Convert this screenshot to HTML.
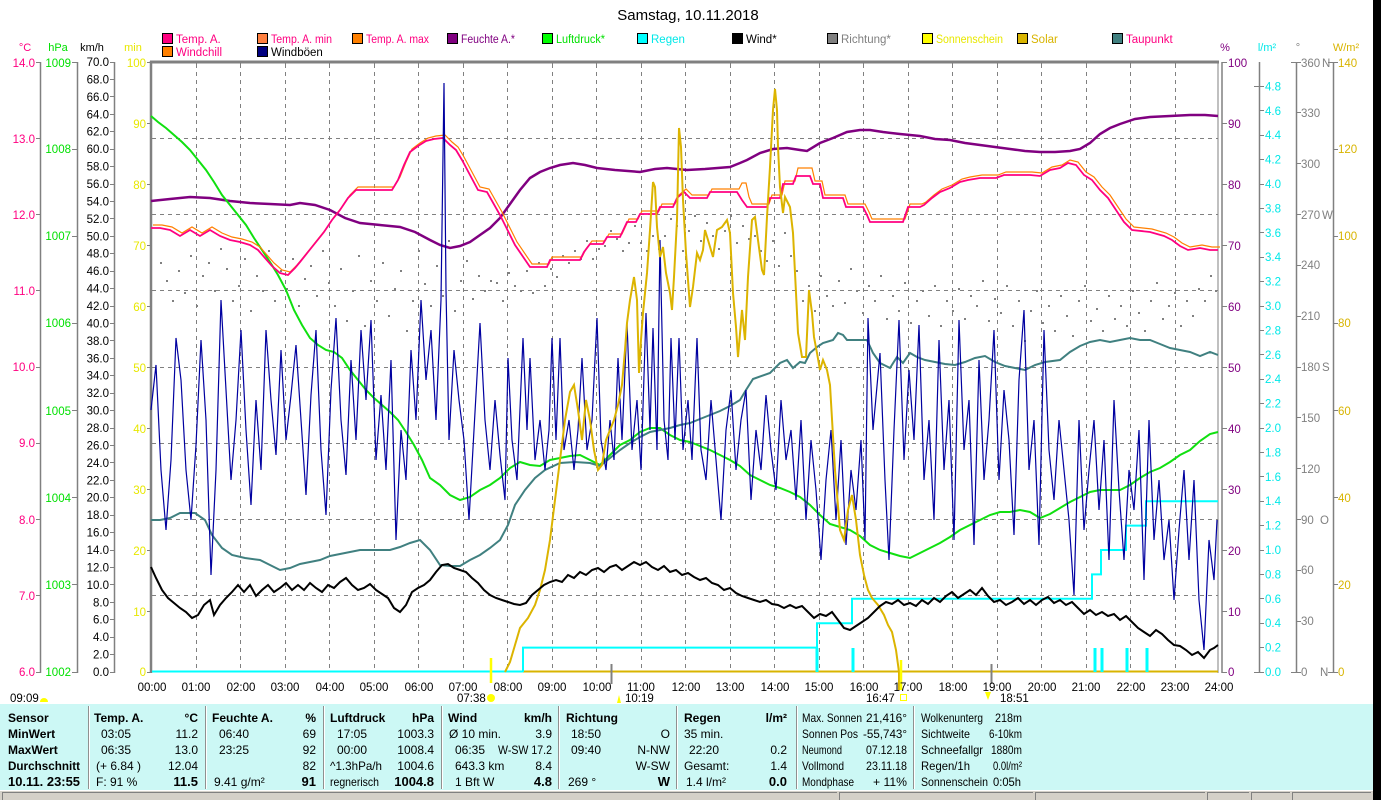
<!DOCTYPE html>
<html><head><meta charset="utf-8">
<style>
html,body{margin:0;padding:0;background:#fff;}
#w{position:relative;width:1381px;height:800px;overflow:hidden;background:#fff;}
svg text{font-family:"Liberation Sans",sans-serif;}
</style></head><body><div id="w">
<svg width="1381" height="800" viewBox="0 0 1381 800" xmlns="http://www.w3.org/2000/svg">
<rect x="0" y="0" width="1381" height="800" fill="#fff"/>
<!-- title -->
<text x="688" y="20" font-size="15" text-anchor="middle" fill="#000">Samstag, 10.11.2018</text>

<!-- legend -->
<g font-size="11.5">
<rect x="162.5" y="33.5" width="10" height="10" fill="#ff0080" stroke="#000"/><text x="176" y="43" fill="#ff0080">Temp. A.</text>
<rect x="257.5" y="33.5" width="10" height="10" fill="#ff8040" stroke="#000"/><text x="271" y="43" fill="#ff0080" textLength="61" lengthAdjust="spacingAndGlyphs">Temp. A. min</text>
<rect x="352.5" y="33.5" width="10" height="10" fill="#ff8000" stroke="#000"/><text x="366" y="43" fill="#ff0080" textLength="63" lengthAdjust="spacingAndGlyphs">Temp. A. max</text>
<rect x="447.5" y="33.5" width="10" height="10" fill="#800080" stroke="#000"/><text x="461" y="43" fill="#800080" textLength="54" lengthAdjust="spacingAndGlyphs">Feuchte A.*</text>
<rect x="542.5" y="33.5" width="10" height="10" fill="#00ff00" stroke="#000"/><text x="556" y="43" fill="#00e000" textLength="49" lengthAdjust="spacingAndGlyphs">Luftdruck*</text>
<rect x="637.5" y="33.5" width="10" height="10" fill="#00ffff" stroke="#000"/><text x="651" y="43" fill="#00e8e8">Regen</text>
<rect x="732.5" y="33.5" width="10" height="10" fill="#000" stroke="#000"/><text x="746" y="43" fill="#000">Wind*</text>
<rect x="827.5" y="33.5" width="10" height="10" fill="#808080" stroke="#000"/><text x="841" y="43" fill="#808080">Richtung*</text>
<rect x="922.5" y="33.5" width="10" height="10" fill="#ffff00" stroke="#000"/><text x="936" y="43" fill="#e8e800" textLength="67" lengthAdjust="spacingAndGlyphs">Sonnenschein</text>
<rect x="1017.5" y="33.5" width="10" height="10" fill="#d8b400" stroke="#000"/><text x="1031" y="43" fill="#d8b400">Solar</text>
<rect x="1112.5" y="33.5" width="10" height="10" fill="#408080" stroke="#000"/><text x="1126" y="43" fill="#ff0080">Taupunkt</text>
<rect x="162.5" y="46.5" width="10" height="10" fill="#ff8000" stroke="#000"/><text x="176" y="56" fill="#ff0080">Windchill</text>
<rect x="257.5" y="46.5" width="10" height="10" fill="#000080" stroke="#000"/><text x="271" y="56" fill="#000">Windböen</text>
</g>

<!-- axis unit labels -->
<g font-size="11" text-anchor="middle">
<text x="25" y="51" fill="#ff0080">°C</text>
<text x="58" y="51" fill="#00e000">hPa</text>
<text x="92" y="51" fill="#000">km/h</text>
<text x="133" y="51" fill="#e8e800">min</text>
<text x="1225" y="51" fill="#800080">%</text>
<text x="1267" y="51" fill="#00e8e8">l/m²</text>
<text x="1298" y="51" fill="#808080">°</text>
<text x="1346" y="51" fill="#d8b400">W/m²</text>
</g>

<!-- grid -->
<g stroke="#808080" stroke-width="1" stroke-dasharray="4,4" fill="none">
<path d="M152 138.5H1218M152 214.5H1218M152 290.5H1218M152 367.5H1218M152 443.5H1218M152 519.5H1218M152 595.5H1218"/>
<path d="M196.5 64V672M240.5 64V672M285.5 64V672M329.5 64V672M374.5 64V672M418.5 64V672M463.5 64V672M507.5 64V672M552.5 64V672M596.5 64V672M641.5 64V672M685.5 64V672M730.5 64V672M774.5 64V672M819.5 64V672M863.5 64V672M908.5 64V672M952.5 64V672M997.5 64V672M1041.5 64V672M1086.5 64V672M1130.5 64V672M1175.5 64V672"/>
</g>

<!-- plot frame -->
<g stroke="#808080" fill="none">
<path d="M150 62H1219" stroke-width="3"/>
<path d="M151 61V673" stroke-width="2.5"/>
<path d="M1218 62V673" stroke-width="1"/>
<path d="M1222 62V673" stroke-width="1.5"/>
<path d="M196.5 63V67M240.5 63V67M285.5 63V67M329.5 63V67M374.5 63V67M418.5 63V67M463.5 63V67M507.5 63V67M552.5 63V67M596.5 63V67M641.5 63V67M685.5 63V67M730.5 63V67M774.5 63V67M819.5 63V67M863.5 63V67M908.5 63V67M952.5 63V67M997.5 63V67M1041.5 63V67M1086.5 63V67M1130.5 63V67M1175.5 63V67" stroke-width="1"/>
</g>

<!-- left axes -->
<g stroke="#808080" stroke-width="1.5" fill="none">
<path d="M40.5 62V673M77.5 62V673M114.5 62V673"/>
<path stroke-width="1" d="M36 62.5H41M36 138.5H41M36 214.5H41M36 290.5H41M36 367.5H41M36 443.5H41M36 519.5H41M36 595.5H41M36 672.5H41"/>
<path stroke-width="1" d="M72 62.5H78M72 149.5H78M72 236.5H78M72 323.5H78M72 410.5H78M72 497.5H78M72 584.5H78M72 672.5H78"/>
<path stroke-width="1" d="M110 62.5H115M110 79.5H115M110 96.5H115M110 114.5H115M110 131.5H115M110 149.5H115M110 166.5H115M110 184.5H115M110 201.5H115M110 218.5H115M110 236.5H115M110 253.5H115M110 271.5H115M110 288.5H115M110 306.5H115M110 323.5H115M110 340.5H115M110 358.5H115M110 375.5H115M110 393.5H115M110 410.5H115M110 428.5H115M110 445.5H115M110 462.5H115M110 480.5H115M110 497.5H115M110 515.5H115M110 532.5H115M110 550.5H115M110 567.5H115M110 584.5H115M110 602.5H115M110 619.5H115M110 637.5H115M110 654.5H115M110 672.5H115"/>
<path stroke-width="1" d="M147 62.5H151M147 123.5H151M147 184.5H151M147 245.5H151M147 306.5H151M147 367.5H151M147 428.5H151M147 489.5H151M147 550.5H151M147 611.5H151M147 672.5H151"/>
</g>
<g font-size="11.5" text-anchor="end">
<g fill="#ff0080">
<text x="35" y="67">14.0</text><text x="35" y="143">13.0</text><text x="35" y="219">12.0</text><text x="35" y="295">11.0</text><text x="35" y="371">10.0</text><text x="35" y="447">9.0</text><text x="35" y="524">8.0</text><text x="35" y="600">7.0</text><text x="35" y="676">6.0</text>
</g>
<g fill="#00e000">
<text x="71" y="67">1009</text><text x="71" y="153">1008</text><text x="71" y="240">1007</text><text x="71" y="327">1006</text><text x="71" y="415">1005</text><text x="71" y="502">1004</text><text x="71" y="589">1003</text><text x="71" y="676">1002</text>
</g>
<g fill="#000">
<text x="109" y="66">70.0</text><text x="109" y="83.4">68.0</text><text x="109" y="100.9">66.0</text><text x="109" y="118.3">64.0</text><text x="109" y="135.7">62.0</text><text x="109" y="153.1">60.0</text><text x="109" y="170.6">58.0</text><text x="109" y="188">56.0</text><text x="109" y="205.4">54.0</text><text x="109" y="222.9">52.0</text><text x="109" y="240.3">50.0</text><text x="109" y="257.7">48.0</text><text x="109" y="275.1">46.0</text><text x="109" y="292.6">44.0</text><text x="109" y="310">42.0</text><text x="109" y="327.4">40.0</text><text x="109" y="344.9">38.0</text><text x="109" y="362.3">36.0</text><text x="109" y="379.7">34.0</text><text x="109" y="397.1">32.0</text><text x="109" y="414.6">30.0</text><text x="109" y="432">28.0</text><text x="109" y="449.4">26.0</text><text x="109" y="466.9">24.0</text><text x="109" y="484.3">22.0</text><text x="109" y="501.7">20.0</text><text x="109" y="519.1">18.0</text><text x="109" y="536.6">16.0</text><text x="109" y="554">14.0</text><text x="109" y="571.4">12.0</text><text x="109" y="588.9">10.0</text><text x="109" y="606.3">8.0</text><text x="109" y="623.7">6.0</text><text x="109" y="641.1">4.0</text><text x="109" y="658.6">2.0</text><text x="109" y="676">0.0</text>
</g>
<g fill="#e8e800">
<text x="146" y="67">100</text><text x="146" y="128">90</text><text x="146" y="189">80</text><text x="146" y="250">70</text><text x="146" y="311">60</text><text x="146" y="372">50</text><text x="146" y="433">40</text><text x="146" y="494">30</text><text x="146" y="555">20</text><text x="146" y="616">10</text><text x="146" y="676">0</text>
</g>
</g>

<!-- right axes -->
<g stroke="#808080" fill="none" stroke-width="1.5">
<path d="M1259.5 62V673M1296.5 62V673M1333.5 62V673"/>
<path stroke-width="1" d="M1222 62.5H1227M1222 123.5H1227M1222 184.5H1227M1222 245.5H1227M1222 306.5H1227M1222 367.5H1227M1222 428.5H1227M1222 489.5H1227M1222 550.5H1227M1222 611.5H1227M1222 672.5H1227"/>
<path stroke-width="1" d="M1254 86.5H1264M1259 110.5H1264M1259 135.5H1264M1259 159.5H1264M1259 184.5H1264M1259 208.5H1264M1259 232.5H1264M1259 257.5H1264M1259 281.5H1264M1259 306.5H1264M1259 330.5H1264M1259 354.5H1264M1259 379.5H1264M1259 403.5H1264M1259 428.5H1264M1259 452.5H1264M1259 476.5H1264M1259 501.5H1264M1259 525.5H1264M1259 550.5H1264M1259 574.5H1264M1259 598.5H1264M1259 623.5H1264M1259 647.5H1264M1254 672.5H1264"/>
<path stroke-width="1" d="M1291 62.5H1301M1296 112.5H1301M1296 163.5H1301M1296 214.5H1301M1296 265.5H1301M1296 316.5H1301M1296 367.5H1301M1296 417.5H1301M1296 468.5H1301M1296 519.5H1301M1296 570.5H1301M1296 621.5H1301M1291 672.5H1301"/>
<path stroke-width="1" d="M1328 62.5H1338M1333 149.5H1338M1333 236.5H1338M1333 323.5H1338M1333 410.5H1338M1333 497.5H1338M1333 584.5H1338M1328 672.5H1338"/>
</g>
<g font-size="11.5">
<g fill="#800080">
<text x="1228" y="67">100</text><text x="1228" y="128">90</text><text x="1228" y="189">80</text><text x="1228" y="250">70</text><text x="1228" y="311">60</text><text x="1228" y="372">50</text><text x="1228" y="433">40</text><text x="1228" y="494">30</text><text x="1228" y="555">20</text><text x="1228" y="616">10</text><text x="1228" y="676">0</text>
</g>
<g fill="#00e8e8">
<text x="1265" y="90.4">4.8</text><text x="1265" y="114.8">4.6</text><text x="1265" y="139.2">4.4</text><text x="1265" y="163.6">4.2</text><text x="1265" y="188">4.0</text><text x="1265" y="212.4">3.8</text><text x="1265" y="236.8">3.6</text><text x="1265" y="261.2">3.4</text><text x="1265" y="285.6">3.2</text><text x="1265" y="310">3.0</text><text x="1265" y="334.4">2.8</text><text x="1265" y="358.8">2.6</text><text x="1265" y="383.2">2.4</text><text x="1265" y="407.6">2.2</text><text x="1265" y="432">2.0</text><text x="1265" y="456.4">1.8</text><text x="1265" y="480.8">1.6</text><text x="1265" y="505.2">1.4</text><text x="1265" y="529.6">1.2</text><text x="1265" y="554">1.0</text><text x="1265" y="578.4">0.8</text><text x="1265" y="602.8">0.6</text><text x="1265" y="627.2">0.4</text><text x="1265" y="651.6">0.2</text><text x="1265" y="676">0.0</text>
</g>
<g fill="#808080">
<text x="1301" y="67">360</text><text x="1322" y="67">N</text>
<text x="1301" y="117">330</text><text x="1301" y="168">300</text>
<text x="1301" y="219">270</text><text x="1322" y="219">W</text>
<text x="1301" y="269">240</text><text x="1301" y="320">210</text>
<text x="1301" y="371">180</text><text x="1322" y="371">S</text>
<text x="1301" y="422">150</text><text x="1301" y="473">120</text>
<text x="1301" y="524">90</text><text x="1320" y="524">O</text>
<text x="1301" y="574">60</text><text x="1301" y="625">30</text>
<text x="1301" y="676">0</text><text x="1320" y="676">N</text>
</g>
<g fill="#d8b400">
<text x="1338" y="67">140</text><text x="1338" y="153">120</text><text x="1338" y="240">100</text><text x="1338" y="327">80</text><text x="1338" y="415">60</text><text x="1338" y="502">40</text><text x="1338" y="589">20</text><text x="1338" y="676">0</text>
</g>
</g>

<!-- Richtung dots -->
<path fill="#808080" d="M160 262h2v2h-2zM166 280h2v2h-2zM172 300h2v2h-2zM178 270h2v2h-2zM184 292h2v2h-2zM190 255h2v2h-2zM196 305h2v2h-2zM202 275h2v2h-2zM208 262h2v2h-2zM214 290h2v2h-2zM220 248h2v2h-2zM226 268h2v2h-2zM232 300h2v2h-2zM238 285h2v2h-2zM244 258h2v2h-2zM250 310h2v2h-2zM256 275h2v2h-2zM262 290h2v2h-2zM268 250h2v2h-2zM274 300h2v2h-2zM280 270h2v2h-2zM286 288h2v2h-2zM292 258h2v2h-2zM298 305h2v2h-2zM304 278h2v2h-2zM310 265h2v2h-2zM316 295h2v2h-2zM322 250h2v2h-2zM328 282h2v2h-2zM334 305h2v2h-2zM340 268h2v2h-2zM346 320h2v2h-2zM352 290h2v2h-2zM358 255h2v2h-2zM364 325h2v2h-2zM370 280h2v2h-2zM376 300h2v2h-2zM382 262h2v2h-2zM388 315h2v2h-2zM394 288h2v2h-2zM400 270h2v2h-2zM406 330h2v2h-2zM412 300h2v2h-2zM418 250h2v2h-2zM424 283h2v2h-2zM430 305h2v2h-2zM436 265h2v2h-2zM442 295h2v2h-2zM448 240h2v2h-2zM454 310h2v2h-2zM460 280h2v2h-2zM466 260h2v2h-2zM472 298h2v2h-2zM478 275h2v2h-2zM484 290h2v2h-2zM490 280h2v2h-2zM496 282h2v2h-2zM502 300h2v2h-2zM508 272h2v2h-2zM514 285h2v2h-2zM520 290h2v2h-2zM526 270h2v2h-2zM532 292h2v2h-2zM538 262h2v2h-2zM544 285h2v2h-2zM550 268h2v2h-2zM556 276h2v2h-2zM562 255h2v2h-2zM568 262h2v2h-2zM574 250h2v2h-2zM580 258h2v2h-2zM586 240h2v2h-2zM592 258h2v2h-2zM598 248h2v2h-2zM604 245h2v2h-2zM610 230h2v2h-2zM616 238h2v2h-2zM622 250h2v2h-2zM628 242h2v2h-2zM634 225h2v2h-2zM640 242h2v2h-2zM646 250h2v2h-2zM652 235h2v2h-2zM658 248h2v2h-2zM664 235h2v2h-2zM670 218h2v2h-2zM676 225h2v2h-2zM682 250h2v2h-2zM688 230h2v2h-2zM694 215h2v2h-2zM700 240h2v2h-2zM706 222h2v2h-2zM712 235h2v2h-2zM718 248h2v2h-2zM724 230h2v2h-2zM730 215h2v2h-2zM736 242h2v2h-2zM742 225h2v2h-2zM748 238h2v2h-2zM754 235h2v2h-2zM760 250h2v2h-2zM766 260h2v2h-2zM772 240h2v2h-2zM778 265h2v2h-2zM784 232h2v2h-2zM790 255h2v2h-2zM796 270h2v2h-2zM802 300h2v2h-2zM808 285h2v2h-2zM814 310h2v2h-2zM820 275h2v2h-2zM826 295h2v2h-2zM832 305h2v2h-2zM838 280h2v2h-2zM844 302h2v2h-2zM850 268h2v2h-2zM856 290h2v2h-2zM862 312h2v2h-2zM868 285h2v2h-2zM874 300h2v2h-2zM880 275h2v2h-2zM886 318h2v2h-2zM892 295h2v2h-2zM898 310h2v2h-2zM904 282h2v2h-2zM910 322h2v2h-2zM916 300h2v2h-2zM922 290h2v2h-2zM928 315h2v2h-2zM934 285h2v2h-2zM940 325h2v2h-2zM946 300h2v2h-2zM952 310h2v2h-2zM958 288h2v2h-2zM964 318h2v2h-2zM970 295h2v2h-2zM976 305h2v2h-2zM982 280h2v2h-2zM988 320h2v2h-2zM994 298h2v2h-2zM1000 312h2v2h-2zM1006 285h2v2h-2zM1012 325h2v2h-2zM1018 300h2v2h-2zM1024 340h2v2h-2zM1030 310h2v2h-2zM1036 290h2v2h-2zM1042 322h2v2h-2zM1048 305h2v2h-2zM1054 330h2v2h-2zM1060 295h2v2h-2zM1066 315h2v2h-2zM1072 335h2v2h-2zM1078 300h2v2h-2zM1084 285h2v2h-2zM1090 320h2v2h-2zM1096 308h2v2h-2zM1102 330h2v2h-2zM1108 295h2v2h-2zM1114 318h2v2h-2zM1120 305h2v2h-2zM1126 325h2v2h-2zM1132 290h2v2h-2zM1138 312h2v2h-2zM1144 330h2v2h-2zM1150 300h2v2h-2zM1156 282h2v2h-2zM1162 318h2v2h-2zM1168 305h2v2h-2zM1174 292h2v2h-2zM1180 325h2v2h-2zM1186 300h2v2h-2zM1192 315h2v2h-2zM1198 288h2v2h-2zM1204 300h2v2h-2zM1210 275h2v2h-2zM1215 290h2v2h-2z"/>

<!-- bottom baselines -->
<path d="M152 671.5H1218" stroke="#d8b400" stroke-width="2" fill="none"/>
<path d="M152 671.5H523" stroke="#00ffff" stroke-width="2" fill="none"/>

<!-- Regen -->
<path d="M523 672V647.6H817V623.2H852V598.8H1092V574.4H1101V550H1126V525.6H1146V501.2H1218" stroke="#00ffff" stroke-width="2" fill="none"/>
<path d="M817 672V648M853 672V648M1095 672V648M1102 672V648M1127 672V648M1147 672V648" stroke="#00ffff" stroke-width="3" fill="none"/>

<!-- Feuchte -->
<polyline fill="none" stroke="#800080" stroke-width="2.5" points="151,201 170,199 190,197 210,198 230,201 250,203 270,204 290,205 300,203 315,205 330,210 345,218 360,223 380,225 400,227 415,232 430,240 440,245 450,248 460,246 470,242 480,235 490,228 500,218 510,204 520,190 530,178 540,172 550,168 560,165 573,163 585,165 597,168 615,170 640,172 655,169 667,168 687,170 705,169 730,167 740,163 747,160 760,153 773,149 787,148 800,150 807,151 820,143 833,138 847,132 860,130 870,130 883,132 900,134 920,136 935,139 950,140 965,143 980,145 995,147 1010,149 1025,151 1040,152 1055,152 1070,151 1080,149 1090,143 1100,134 1110,128 1120,124 1135,119 1150,117 1170,116 1190,115 1205,115 1218,116"/>

<!-- Luftdruck -->
<polyline fill="none" stroke="#10e010" stroke-width="2" points="151,116 158,122 166,128 174,135 182,142 190,150 198,160 206,170 214,182 222,195 230,205 238,215 246,225 254,238 262,250 270,262 278,275 286,290 294,310 302,325 310,338 318,345 326,350 334,352 342,358 350,370 358,380 366,390 374,398 382,405 390,412 398,420 406,432 414,445 422,460 430,478 440,485 450,495 460,500 470,497 480,490 490,485 500,478 510,468 520,462 530,465 540,466 550,460 560,458 570,456 580,455 590,460 600,465 610,455 620,445 630,440 640,432 650,428 660,428 670,435 680,440 690,442 700,446 710,450 720,455 730,460 740,466 750,475 760,480 770,485 780,488 790,492 800,497 810,505 820,515 830,524 840,527 850,530 860,536 870,545 880,550 890,553 900,556 910,558 920,553 930,548 940,543 950,537 960,530 970,525 980,520 990,515 1000,512 1010,512 1020,510 1030,512 1040,518 1050,514 1060,508 1070,502 1080,497 1090,492 1100,490 1110,490 1120,490 1130,485 1140,478 1150,472 1160,468 1170,462 1180,455 1190,450 1200,441 1210,434 1218,432"/>

<!-- Temp max / windchill (orange) -->
<polyline transform="translate(2,-1)" fill="none" stroke="#ff8000" stroke-width="1.2" points="151,226 160,226 170,228 180,234 190,228 200,234 210,228 220,234 230,238 240,240 250,243 258,248 265,256 272,264 280,271 288,273 295,266 300,260 308,250 316,240 324,230 332,218 340,208 348,196 356,188 392,188 398,178 404,163 410,150 418,144 426,139 434,137 443,136 450,143 456,148 462,158 470,173 478,188 487,190 500,213 515,243 530,265 547,265 550,258 580,258 584,250 590,242 603,242 607,235 620,235 627,220 636,220 640,212 657,212 660,205 673,205 677,196 684,190 690,196 707,196 710,190 737,190 740,184 744,184 747,198 750,205 767,205 770,196 780,196 783,182 793,182 796,169 810,169 813,182 820,182 823,196 843,196 846,205 863,205 867,213 870,220 903,220 908,205 920,205 924,203 932,196 940,190 950,186 960,180 968,178 980,176 996,176 1004,173 1030,173 1040,174 1050,168 1060,166 1068,161 1076,163 1084,173 1092,178 1100,188 1108,196 1116,208 1124,220 1132,228 1150,230 1164,234 1172,238 1180,244 1188,248 1200,246 1210,248 1218,248"/>
<!-- Temp A (pink) -->
<polyline fill="none" stroke="#ff0080" stroke-width="1.8" points="151,228 160,228 170,230 180,236 190,230 200,236 210,230 220,236 230,240 240,242 250,245 258,250 265,258 272,266 280,273 288,275 295,268 300,262 308,252 316,242 324,232 332,220 340,210 348,198 356,190 392,190 398,180 404,165 410,152 418,146 426,141 434,139 443,138 450,145 456,150 462,160 470,175 478,190 487,192 500,215 515,245 530,267 547,267 550,260 580,260 584,252 590,244 603,244 607,237 620,237 627,222 636,222 640,214 657,214 660,207 673,207 677,198 684,192 690,198 707,198 710,192 737,192 742,200 747,207 767,207 770,198 780,198 783,184 793,184 796,176 810,176 813,184 820,184 823,198 843,198 846,207 863,207 867,215 870,222 903,222 908,207 920,207 924,205 932,198 940,192 950,188 960,182 968,180 980,178 996,178 1004,175 1030,175 1040,176 1050,170 1060,168 1068,163 1076,165 1084,175 1092,180 1100,190 1108,198 1116,210 1124,222 1132,230 1150,232 1164,236 1172,240 1180,246 1188,250 1200,248 1210,250 1218,250"/>

<!-- Taupunkt -->
<polyline fill="none" stroke="#408080" stroke-width="2" points="151,520 160,520 170,518 180,513 195,513 205,520 212,535 222,548 232,555 245,558 260,560 270,565 280,570 290,568 300,564 310,562 320,560 330,556 345,553 360,550 375,550 390,550 400,547 410,543 420,540 430,550 440,565 450,566 460,566 470,560 480,555 490,548 500,540 508,525 515,505 525,490 535,478 545,470 560,463 575,462 590,463 600,466 610,458 620,450 630,443 640,437 650,432 660,430 670,428 680,425 690,423 700,419 710,415 720,411 730,406 740,400 746,390 753,379 770,373 780,363 787,360 793,368 800,362 805,363 810,353 817,347 823,343 833,340 838,333 843,335 847,340 867,340 873,353 880,363 890,368 897,357 903,363 910,353 917,357 925,360 935,362 945,364 955,365 965,362 975,358 985,356 995,362 1005,366 1015,368 1025,370 1035,365 1045,362 1060,360 1070,352 1080,346 1090,342 1100,340 1110,342 1120,340 1130,338 1140,340 1150,340 1160,344 1170,348 1180,350 1190,352 1200,356 1210,352 1218,355"/>

<!-- Windböen -->
<polyline fill="none" stroke="#0000a0" stroke-width="1.2" points="151,410 156,365 161,470 166,530 171,460 176,338 181,380 186,470 191,520 196,445 201,340 206,420 211,575 216,470 221,300 226,390 231,480 236,420 241,330 246,430 251,505 256,400 261,470 266,330 271,400 276,455 281,350 286,440 291,395 296,345 301,420 306,495 311,395 316,330 321,450 326,515 331,390 336,318 341,420 346,475 351,360 356,440 361,330 366,400 371,320 376,460 381,395 386,470 391,360 396,540 401,430 406,480 411,350 416,420 421,300 426,380 431,330 436,420 441,300 444,83 446,290 449,440 454,350 459,400 464,440 469,520 474,430 480,323 485,420 490,470 495,400 500,455 505,500 508,358 512,440 517,480 523,338 527,430 530,358 535,460 540,420 545,470 549,430 552,338 556,440 560,338 564,450 569,420 574,470 578,430 582,358 587,450 592,420 597,318 601,440 606,470 610,420 614,460 618,358 622,440 627,323 632,450 637,400 641,470 646,313 650,430 653,328 657,450 660,240 664,420 668,460 671,338 675,440 679,338 683,450 688,400 692,460 697,338 701,450 706,480 711,400 716,460 721,520 726,430 731,390 736,470 741,420 746,390 751,500 756,430 761,470 766,395 771,450 776,490 781,400 786,460 791,430 796,500 801,420 806,520 811,440 816,490 821,560 826,480 831,430 836,520 841,440 846,545 851,470 856,510 861,440 865,540 868,318 873,430 880,353 885,480 889,560 894,430 899,320 904,460 909,370 914,440 919,325 924,480 929,420 934,520 939,340 944,470 949,400 954,540 959,320 964,450 969,400 974,545 979,360 984,480 989,420 994,330 999,480 1004,390 1009,440 1014,535 1019,380 1024,310 1029,470 1034,420 1039,545 1044,330 1049,450 1054,500 1059,420 1064,470 1069,520 1074,595 1079,420 1084,530 1089,470 1094,420 1099,510 1104,440 1109,560 1114,400 1119,490 1124,560 1129,470 1134,510 1139,430 1144,580 1149,420 1154,540 1159,480 1164,560 1169,520 1174,600 1179,530 1184,470 1189,560 1194,480 1199,600 1204,650 1209,540 1214,580 1217,520"/>

<!-- Solar -->
<polyline fill="none" stroke="#dcb400" stroke-width="2" points="505,672 510,662 515,645 520,628 528,618 535,605 540,590 545,570 550,540 555,500 560,460 565,420 570,392 574,385 578,410 582,440 586,400 590,420 594,450 598,470 602,465 606,440 610,430 614,420 618,405 622,385 625,350 627,323 630,300 634,277 637,300 639,373 641,340 643,313 647,273 650,230 653,182 655,187 657,227 660,257 663,247 666,273 670,293 672,310 674,277 677,220 679,128 681,147 683,200 686,253 690,307 693,287 697,253 700,260 703,250 705,230 708,240 713,257 717,230 722,227 727,220 730,233 733,293 736,327 738,357 742,310 745,340 748,277 752,220 755,217 758,240 762,270 764,275 767,217 770,167 773,110 775,89 777,110 778,147 780,187 783,213 785,197 790,207 793,233 796,293 798,333 802,357 806,357 809,290 812,313 814,337 817,353 820,370 823,360 827,370 830,385 835,470 840,530 844,540 848,510 852,495 856,520 860,555 864,575 868,590 872,598 878,605 884,615 888,625 892,632 896,650 899,672 899,690"/>

<!-- Wind -->
<polyline fill="none" stroke="#000" stroke-width="2" points="151,567 156,578 162,590 168,598 174,603 180,608 186,612 192,618 198,615 204,605 210,600 214,615 220,605 226,598 232,592 238,585 244,592 250,585 256,596 262,590 268,585 274,592 280,588 286,583 292,590 298,585 304,590 310,583 316,588 322,592 328,585 334,588 340,582 346,578 352,585 358,590 364,588 370,584 376,590 382,594 388,598 394,608 400,612 406,605 412,592 418,588 424,585 430,580 436,572 442,565 448,564 454,568 460,570 466,572 472,578 478,583 484,590 490,595 496,598 502,600 508,602 514,604 520,605 526,603 532,595 538,590 544,585 550,582 556,580 562,582 568,575 574,578 580,572 586,575 592,570 598,568 604,572 610,567 616,565 622,570 628,566 634,562 640,565 646,562 652,567 658,570 664,566 670,572 676,570 682,575 688,573 694,577 700,580 706,578 712,583 718,585 724,590 730,588 736,593 742,596 748,598 754,600 760,602 766,600 772,604 778,605 784,608 790,605 796,608 802,606 808,612 814,618 820,614 826,616 832,612 838,620 844,628 850,630 856,626 862,622 868,618 874,612 880,606 886,602 892,604 898,600 904,605 910,603 916,606 922,600 928,604 934,598 940,602 946,596 952,592 958,598 964,594 970,590 976,595 982,588 988,596 994,602 1000,600 1006,605 1012,602 1018,598 1024,604 1030,600 1036,605 1042,600 1048,597 1054,603 1060,600 1066,605 1072,602 1078,608 1084,614 1090,610 1096,615 1102,612 1108,616 1114,614 1120,620 1126,616 1132,622 1138,628 1144,632 1150,636 1156,630 1162,634 1168,640 1174,645 1180,646 1186,650 1192,655 1198,652 1204,658 1210,650 1214,648 1218,645"/>

<!-- sun markers -->
<path d="M491 658V683M901 660V690" stroke="#ffff00" stroke-width="2.5" fill="none"/>
<path d="M611.5 664V684M991.5 664V684" stroke="#808080" stroke-width="2" fill="none"/>

<!-- time labels -->
<g font-size="11.5" text-anchor="middle" fill="#000">
<text x="152" y="691">00:00</text><text x="196" y="691">01:00</text><text x="241" y="691">02:00</text><text x="285" y="691">03:00</text><text x="330" y="691">04:00</text><text x="374" y="691">05:00</text><text x="419" y="691">06:00</text><text x="463" y="691">07:00</text><text x="508" y="691">08:00</text><text x="552" y="691">09:00</text><text x="597" y="691">10:00</text><text x="641" y="691">11:00</text><text x="686" y="691">12:00</text><text x="730" y="691">13:00</text><text x="775" y="691">14:00</text><text x="819" y="691">15:00</text><text x="864" y="691">16:00</text><text x="908" y="691">17:00</text><text x="953" y="691">18:00</text><text x="997" y="691">19:00</text><text x="1042" y="691">20:00</text><text x="1086" y="691">21:00</text><text x="1131" y="691">22:00</text><text x="1175" y="691">23:00</text><text x="1219" y="691">24:00</text>
</g>
<g font-size="11.5" fill="#000">
<text x="10" y="702">09:09</text>
<text x="457" y="702">07:38</text>
<text x="625" y="702">10:19</text>
<text x="866" y="702">16:47</text>
<text x="1000" y="702">18:51</text>
</g>
<path d="M40 702a4 4 0 0 1 8 0z" fill="#ffff00"/>
<circle cx="491" cy="698" r="4" fill="#ffff00"/>
<path d="M617 703l2-8 2 8z" fill="#ffff00"/>
<rect x="900.5" y="694.5" width="6" height="6" fill="none" stroke="#ffff00"/>
<path d="M985 692l3 8 3-8z" fill="#ffff00"/>

<!-- table -->
<rect x="0" y="704" width="1373" height="86" fill="#ccf8f5"/>
<g stroke="#909090" stroke-width="1">
<path d="M88.5 706V789M205.5 706V789M323.5 706V789M441.5 706V789M558.5 706V789M676.5 706V789M796.5 706V789M913.5 706V789"/>
</g>
<g stroke="#fff" stroke-width="1">
<path d="M89.5 706V789M206.5 706V789M324.5 706V789M442.5 706V789M559.5 706V789M677.5 706V789M797.5 706V789M914.5 706V789"/>
</g>
<g font-size="12" fill="#000">
<g font-weight="bold">
<text x="8" y="722">Sensor</text><text x="8" y="738">MinWert</text><text x="8" y="754">MaxWert</text><text x="8" y="770" textLength="72" lengthAdjust="spacingAndGlyphs">Durchschnitt</text>
<text x="8" y="786" font-size="13" textLength="72" lengthAdjust="spacingAndGlyphs">10.11. 23:55</text>
<text x="94" y="722">Temp. A.</text><text x="198" y="722" text-anchor="end">°C</text>
<text x="212" y="722">Feuchte A.</text><text x="316" y="722" text-anchor="end">%</text>
<text x="330" y="722">Luftdruck</text><text x="434" y="722" text-anchor="end">hPa</text>
<text x="448" y="722">Wind</text><text x="552" y="722" text-anchor="end">km/h</text>
<text x="566" y="722">Richtung</text>
<text x="684" y="722">Regen</text><text x="787" y="722" text-anchor="end">l/m²</text>
</g>
<text x="101" y="738">03:05</text><text x="198" y="738" text-anchor="end">11.2</text>
<text x="101" y="754">06:35</text><text x="198" y="754" text-anchor="end">13.0</text>
<text x="96" y="770">(+ 6.84 )</text><text x="198" y="770" text-anchor="end">12.04</text>
<text x="96" y="786">F: 91 %</text><text x="198" y="786" text-anchor="end" font-weight="bold" font-size="13">11.5</text>

<text x="219" y="738">06:40</text><text x="316" y="738" text-anchor="end">69</text>
<text x="219" y="754">23:25</text><text x="316" y="754" text-anchor="end">92</text>
<text x="316" y="770" text-anchor="end">82</text>
<text x="214" y="786">9.41 g/m²</text><text x="316" y="786" text-anchor="end" font-weight="bold" font-size="13">91</text>

<text x="337" y="738">17:05</text><text x="434" y="738" text-anchor="end">1003.3</text>
<text x="337" y="754">00:00</text><text x="434" y="754" text-anchor="end">1008.4</text>
<text x="330" y="770" textLength="52" lengthAdjust="spacingAndGlyphs">^1.3hPa/h</text><text x="434" y="770" text-anchor="end">1004.6</text>
<text x="330" y="786" textLength="49" lengthAdjust="spacingAndGlyphs">regnerisch</text><text x="434" y="786" text-anchor="end" font-weight="bold" font-size="13">1004.8</text>

<text x="449" y="738">Ø 10 min.</text><text x="552" y="738" text-anchor="end">3.9</text>
<text x="455" y="754">06:35</text><text x="552" y="754" text-anchor="end" textLength="54" lengthAdjust="spacingAndGlyphs">W-SW 17.2</text>
<text x="455" y="770">643.3 km</text><text x="552" y="770" text-anchor="end">8.4</text>
<text x="455" y="786">1 Bft W</text><text x="552" y="786" text-anchor="end" font-weight="bold" font-size="13">4.8</text>

<text x="571" y="738">18:50</text><text x="670" y="738" text-anchor="end">O</text>
<text x="571" y="754">09:40</text><text x="670" y="754" text-anchor="end">N-NW</text>
<text x="670" y="770" text-anchor="end">W-SW</text>
<text x="568" y="786">269 °</text><text x="670" y="786" text-anchor="end" font-weight="bold" font-size="13">W</text>

<text x="684" y="738">35 min.</text>
<text x="689" y="754">22:20</text><text x="787" y="754" text-anchor="end">0.2</text>
<text x="684" y="770">Gesamt:</text><text x="787" y="770" text-anchor="end">1.4</text>
<text x="686" y="786">1.4 l/m²</text><text x="787" y="786" text-anchor="end" font-weight="bold" font-size="13">0.0</text>

<text x="802" y="722" textLength="60" lengthAdjust="spacingAndGlyphs">Max. Sonnen</text><text x="866" y="722" textLength="41" lengthAdjust="spacingAndGlyphs">21,416°</text>
<text x="802" y="738" textLength="56" lengthAdjust="spacingAndGlyphs">Sonnen Pos</text><text x="863" y="738" textLength="44" lengthAdjust="spacingAndGlyphs">-55,743°</text>
<text x="802" y="754" textLength="40" lengthAdjust="spacingAndGlyphs">Neumond</text><text x="866" y="754" textLength="41" lengthAdjust="spacingAndGlyphs">07.12.18</text>
<text x="802" y="770" textLength="42" lengthAdjust="spacingAndGlyphs">Vollmond</text><text x="866" y="770" textLength="41" lengthAdjust="spacingAndGlyphs">23.11.18</text>
<text x="802" y="786" textLength="52" lengthAdjust="spacingAndGlyphs">Mondphase</text><text x="873" y="786" textLength="34" lengthAdjust="spacingAndGlyphs">+ 11%</text>

<text x="921" y="722" textLength="62" lengthAdjust="spacingAndGlyphs">Wolkenunterg</text><text x="995" y="722" textLength="27" lengthAdjust="spacingAndGlyphs">218m</text>
<text x="921" y="738" textLength="49" lengthAdjust="spacingAndGlyphs">Sichtweite</text><text x="989" y="738" textLength="33" lengthAdjust="spacingAndGlyphs">6-10km</text>
<text x="921" y="754" textLength="62" lengthAdjust="spacingAndGlyphs">Schneefallgr</text><text x="991" y="754" textLength="31" lengthAdjust="spacingAndGlyphs">1880m</text>
<text x="921" y="770" textLength="49" lengthAdjust="spacingAndGlyphs">Regen/1h</text><text x="993" y="770" textLength="29" lengthAdjust="spacingAndGlyphs">0.0l/m²</text>
<text x="921" y="786" textLength="67" lengthAdjust="spacingAndGlyphs">Sonnenschein</text><text x="993" y="786" textLength="28" lengthAdjust="spacingAndGlyphs">0:05h</text>
</g>

<!-- status bar -->
<rect x="0" y="790" width="1373" height="10" fill="#d4d0c8"/>
<path d="M0 790.5H1373" stroke="#fff"/>
<g fill="none" stroke="#808080">
<path d="M2.5 800V792.5H837M839.5 800V792.5H1033M1035.5 800V792.5H1205M1207.5 800V792.5H1249M1251.5 800V792.5H1290M1292.5 800V792.5H1371"/>
</g>

<!-- right black strip -->
<rect x="1373" y="0" width="8" height="800" fill="#000"/>
</svg>
</div></body></html>
